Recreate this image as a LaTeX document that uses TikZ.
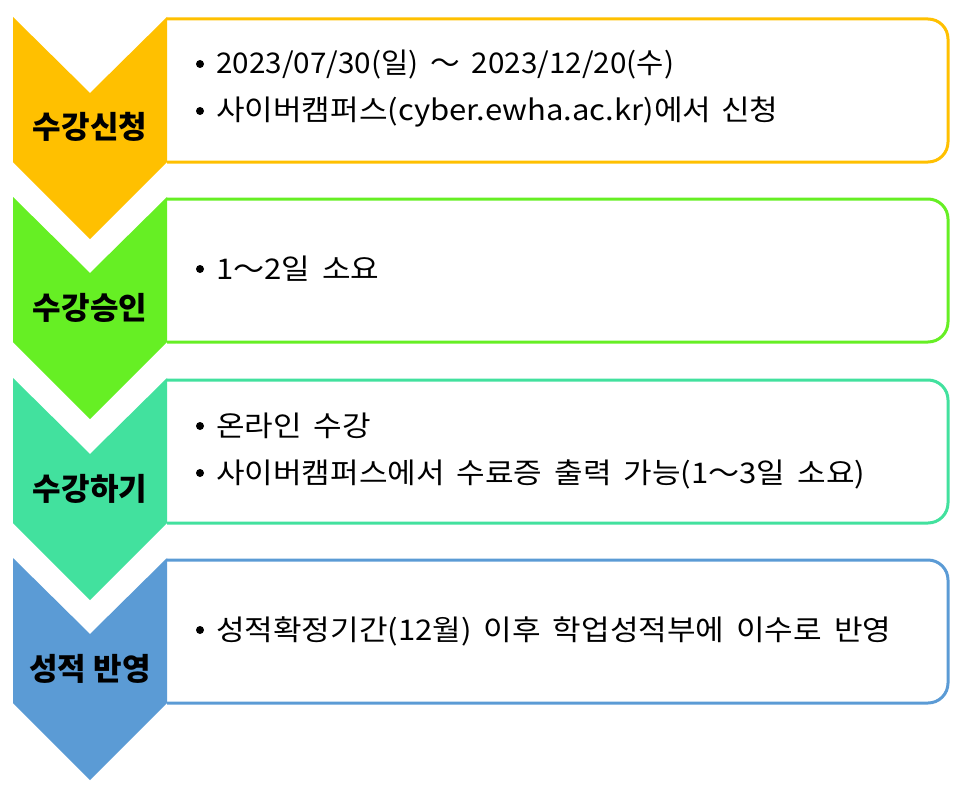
\documentclass[tikz,border=0pt]{standalone}
\usepackage{fontspec}
\newfontfamily\krfont{Noto Sans CJK KR}
\newfontfamily\krwide{Noto Sans CJK KR}[FakeStretch=1.09]
\newfontfamily\krmid{Noto Sans CJK KR}[FakeStretch=1.04]
\newcommand{\widesp}{\spaceskip=12pt\relax}
\newcommand{\narrowsp}{\spaceskip=10pt\relax}
\definecolor{cyel}{HTML}{FFC000}
\definecolor{cgrn}{HTML}{66EF24}
\definecolor{ctea}{HTML}{42E19E}
\definecolor{cblu}{HTML}{5B9BD5}
\tikzset{
  chev/.style={fill=#1, draw=none},
  boxline/.style={draw=#1, line width=3pt, rounded corners=20pt},
  lab/.style={font=\krfont\bfseries\fontsize{31}{33}\selectfont, anchor=base, inner sep=0pt},
  body/.style={font=\krwide\fontsize{28.5}{32}\selectfont, anchor=base west, inner sep=0pt},
  bodymid/.style={body, font=\krmid\fontsize{28.5}{32}\selectfont},
  bul/.style={circle, fill=black, inner sep=0pt, minimum size=8pt},
}
\newcommand{\stepchev}[2]{% top, colour
  \draw[boxline=#2] (167,#1+2) -- (948,#1+2) -- (948,#1+145) -- (167,#1+145);
  \fill[chev=#2] (13,#1) -- (90,#1+76) -- (167,#1) -- (167,#1+145) -- (90,#1+222) -- (13,#1+145) -- cycle;
}
\begin{document}
\begin{tikzpicture}[x=1pt,y=-1pt]
\useasboundingbox (0,0) rectangle (957,789);
\stepchev{17}{cyel}
\stepchev{197}{cgrn}
\stepchev{378}{ctea}
\stepchev{558}{cblu}
\node[lab] (la) at (90,139) {수강신청};
\node[lab] (lb) at (90,319) {수강승인};
\node[lab] (lc) at (90,500) {수강하기};
\node[lab] (ld) at (90,680) {성적 반영};
% box 1
\node[bul] (b1) at (200,64) {};
\node[bodymid] (t1) at (216,74) {\widesp 2023/07/30(일) ～ 2023/12/20(수)};
\node[bul] (b2) at (200,111) {};
\node[body] (t2) at (216,121) {\narrowsp 사이버캠퍼스(cyber.ewha.ac.kr)에서 신청};
% box 2
\node[bul] (b3) at (200,269) {};
\node[body] (t3) at (216,279) {\widesp 1～2일 소요};
% box 3
\node[bul] (b4) at (200,426) {};
\node[body] (t4) at (216,436) {\widesp 온라인 수강};
\node[bul] (b5) at (200,473) {};
\node[body] (t5) at (216,483) {\widesp 사이버캠퍼스에서 수료증 출력 가능(1～3일 소요)};
% box 4
\node[bul] (b6) at (200,630) {};
\node[body] (t6) at (216,640) {\widesp 성적확정기간(12월) 이후 학업성적부에 이수로 반영};
\end{tikzpicture}
\end{document}
